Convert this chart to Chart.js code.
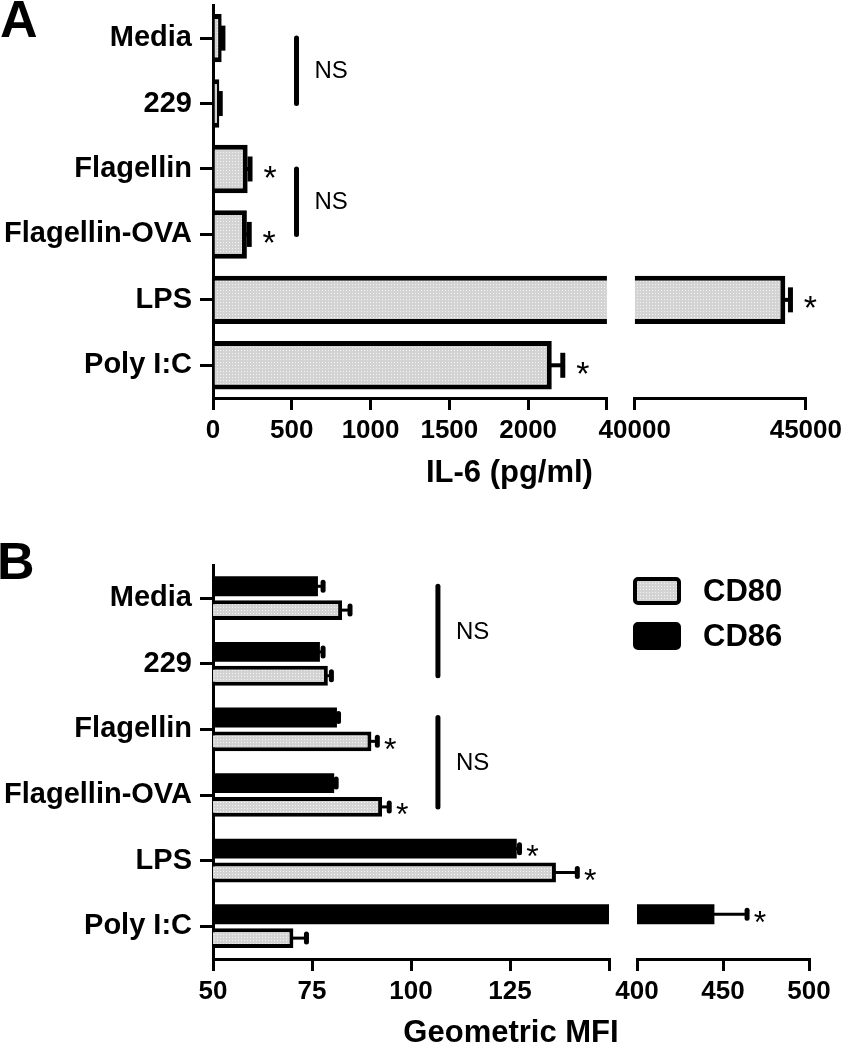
<!DOCTYPE html>
<html>
<head>
<meta charset="utf-8">
<script src="https://cdn.jsdelivr.net/npm/chart.js@4.4.1/dist/chart.umd.min.js"></script>
<style>
  html, body { margin: 0; padding: 0; background: #fff; }
  body { width: 847px; height: 1050px; position: relative; overflow: hidden;
         font-family: 'Liberation Sans', Arial, Helvetica, sans-serif; }
  canvas { position: absolute; left: 0; }
  #chartA { top: -20px; }
  #chartB { top: 540px; }
  .plabel { position: absolute; font-weight: bold; font-size: 52px; line-height: 1; color: #000; z-index: 5; }
</style>
</head>
<body>
<div class="plabel" style="left:0px; top:-7px;">A</div>
<div class="plabel" style="left:-3px; top:535px;">B</div>
<canvas id="chartA" width="847" height="520"></canvas>
<canvas id="chartB" width="847" height="510"></canvas>
<script>
// ---------------- DATA ----------------
const categories = ['Media', '229', 'Flagellin', 'Flagellin-OVA', 'LPS', 'Poly I:C'];

// Panel A: IL-6 (pg/ml)
const il6Mean = [55, 40, 220, 215, 44400, 2150];
const il6Err  = [8, 6, 15, 15, 150, 70];
const il6Sig  = [false, false, true, true, true, true];

// Panel B: Geometric MFI
const seriesNamesB = ['CD80', 'CD86'];
const cd80Mean = [82.6, 79.0, 90.0, 92.7, 136.6, 70.3];
const cd80Err  = [2.0, 0.9, 1.5, 1.8, 5.4, 3.3];
const cd80Sig  = [false, false, true, true, true, false];
const cd86Mean = [76.5, 77.0, 81.3, 80.6, 126.7, 445];
const cd86Err  = [1.3, 0.8, 0.4, 0.5, 0.7, 19];
const cd86Sig  = [false, false, false, false, true, true];

// NS brackets (pairs of category indices)
const nsGroups = [[0, 1], [2, 3]];

// Axis ticks (broken axes: left segment / right segment)
const ticksA1 = [0, 500, 1000, 1500, 2000, 2500];
const labelsA1 = [0, 500, 1000, 1500, 2000];
const ticksA2 = [40000, 45000];
const labelsA2 = [40000, 45000];
const ticksB1 = [50, 75, 100, 125, 150];
const labelsB1 = [50, 75, 100, 125];
const ticksB2 = [400, 450, 500];
const labelsB2 = [400, 450, 500];

// ---------------- STYLE HELPERS ----------------
const FAM = "'Liberation Sans', Arial, Helvetica, sans-serif";
function fontAvailable(name) {
  const c = document.createElement('canvas').getContext('2d');
  c.font = 'bold 30px monospace';
  const w1 = c.measureText('45000 1500 IL').width;
  c.font = "bold 30px '" + name + "', monospace";
  const w2 = c.measureText('45000 1500 IL').width;
  return Math.abs(w1 - w2) > 0.5;
}
const narrowOK = fontAvailable('Liberation Sans Narrow');
const tickFont = narrowOK
  ? { family: "'Liberation Sans Narrow', " + FAM, size: 30, weight: 'bold', lineHeight: 1.2 }
  : { family: FAM, size: 26, weight: 'bold', lineHeight: 1.2 };

function makePattern() {
  const c = document.createElement('canvas');
  c.width = 3; c.height = 3;
  const g = c.getContext('2d');
  g.fillStyle = '#d3d3d3'; g.fillRect(0, 0, 3, 3);
  g.fillStyle = '#f3f3f3'; g.fillRect(1, 1, 1, 1);
  return g.createPattern(c, 'repeat');
}
const grayPat = makePattern();

function xSeg(min, max, ticks, labels, weight, h) {
  return {
    type: 'linear', position: 'bottom', stack: 'xs', stackWeight: weight,
    min: min, max: max, stacked: false, beginAtZero: false, offset: false,
    afterBuildTicks: s => { s.ticks = ticks.map(v => ({ value: v })); },
    afterFit: s => { s.height = h; },
    grid: { display: true, drawOnChartArea: false, drawTicks: true, tickLength: 12,
            tickWidth: 3, tickColor: '#000', color: '#000', lineWidth: 3, offset: false },
    border: { display: true, color: '#000', width: 3 },
    ticks: { autoSkip: false, maxRotation: 0, minRotation: 0, padding: 5, color: '#000',
             font: tickFont, callback: v => labels.includes(v) ? String(v) : '' }
  };
}
function xGap(weight, h) {
  return {
    type: 'linear', position: 'bottom', stack: 'xs', stackWeight: weight, min: 0, max: 1,
    afterFit: s => { s.height = h; },
    grid: { display: false }, border: { display: false }, ticks: { display: false }
  };
}
function yCat() {
  return {
    type: 'category', labels: categories, position: 'left', offset: true, stacked: true,
    afterFit: s => { s.width = 213; },
    grid: { display: true, drawOnChartArea: false, drawTicks: true, tickLength: 13,
            tickWidth: 3, tickColor: '#000', color: '#000', lineWidth: 3, offset: false },
    border: { display: true, color: '#000', width: 3 },
    ticks: { autoSkip: false, padding: 8, color: '#000',
             font: { family: FAM, size: 29, weight: 'bold' } }
  };
}

// clip each dataset to its own x segment (broken axis)
const clipPlugin = {
  id: 'segClip',
  beforeDatasetDraw(chart, args) {
    const sc = args.meta.xScale;
    chart.ctx.save();
    chart.ctx.beginPath();
    chart.ctx.rect(sc.left, 0, sc.right - sc.left, chart.height);
    chart.ctx.clip();
  },
  afterDatasetDraw(chart) { chart.ctx.restore(); }
};

function annotPlugin(cfg) {
  return {
    id: 'annot',
    afterDatasetsDraw(chart) {
      const ctx = chart.ctx;
      ctx.save();
      ctx.strokeStyle = '#000'; ctx.fillStyle = '#000';
      cfg.series.forEach(s => {
        s.mean.forEach((v, i) => {
          const e = s.err[i];
          const m0 = chart.getDatasetMeta(s.ds[0]);
          const meta = v > m0.xScale.max ? chart.getDatasetMeta(s.ds[1]) : m0;
          const el = meta.data[i];
          const sc = meta.xScale;
          const x0 = sc.getPixelForValue(v);
          const x1 = sc.getPixelForValue(v + e);
          const cy = el.y;
          if (e > 0) {
            ctx.lineWidth = cfg.stemW; ctx.lineCap = 'butt';
            ctx.beginPath(); ctx.moveTo(x0 - 2, cy); ctx.lineTo(x1, cy); ctx.stroke();
            ctx.lineWidth = cfg.capW; ctx.lineCap = cfg.capRound ? 'round' : 'butt';
            ctx.beginPath(); ctx.moveTo(x1, cy - cfg.capH / 2); ctx.lineTo(x1, cy + cfg.capH / 2); ctx.stroke();
          }
          if (s.sig[i]) {
            ctx.font = cfg.starSize + 'px ' + FAM;
            ctx.textAlign = 'center'; ctx.textBaseline = 'alphabetic';
            ctx.fillText('*', x1 + cfg.starDx, cy + 0.575 * cfg.starSize + cfg.starDy);
          }
        });
      });
      // NS brackets
      const xs = chart.scales.x1;
      const nx = xs.getPixelForValue(cfg.nsAt);
      const first = cfg.series[0], last = cfg.series[cfg.series.length - 1];
      nsGroups.forEach(g => {
        const yt = chart.getDatasetMeta(first.ds[0]).data[g[0]].y;
        const yb = chart.getDatasetMeta(last.ds[0]).data[g[1]].y;
        ctx.lineWidth = cfg.nsW; ctx.lineCap = 'round';
        ctx.beginPath(); ctx.moveTo(nx, yt); ctx.lineTo(nx, yb); ctx.stroke();
        ctx.font = '24px ' + FAM;
        ctx.textAlign = 'left'; ctx.textBaseline = 'middle';
        ctx.fillText('NS', nx + 18, (yt + yb) / 2 + 1);
      });
      ctx.restore();
    }
  };
}

// ---------------- PANEL A ----------------
const barA = { backgroundColor: grayPat, borderColor: '#000', borderWidth: 5,
               categoryPercentage: 0.74, barPercentage: 1, stack: 'il6', yAxisID: 'y' };
new Chart(document.getElementById('chartA'), {
  type: 'bar',
  data: {
    labels: categories,
    datasets: [
      Object.assign({ label: 'IL-6', data: il6Mean, xAxisID: 'x1' }, barA),
      Object.assign({ label: 'IL-6', data: il6Mean, xAxisID: 'x2' }, barA)
    ]
  },
  options: {
    indexAxis: 'y', responsive: false, animation: false, devicePixelRatio: 1,
    layout: { padding: { left: 0, right: 38, top: 24, bottom: 11 } },
    scales: {
      x1: xSeg(0, 2500, ticksA1, labelsA1, 396, 60),
      xg: xGap(28, 60),
      x2: xSeg(40000, 45000, ticksA2, labelsA2, 172, 60),
      y: yCat()
    },
    plugins: {
      legend: { display: false }, tooltip: { enabled: false },
      title: { display: true, text: 'IL-6 (pg/ml)', position: 'bottom', fullSize: false,
               color: '#000', padding: { top: 0, bottom: 0 },
               font: { family: FAM, size: 31, weight: 'bold', lineHeight: 1 } }
    }
  },
  plugins: [clipPlugin, annotPlugin({
    series: [{ ds: [0, 1], mean: il6Mean, err: il6Err, sig: il6Sig }],
    stemW: 4, capW: 5, capH: 25, capRound: false,
    starSize: 34, starDx: 20, starDy: 0, nsAt: 530, nsW: 5
  })]
});

// ---------------- PANEL B ----------------
const barB = { borderColor: '#000', categoryPercentage: 0.727,
               barPercentage: 0.833, yAxisID: 'y' };
const legendB = {
  id: 'legendB',
  afterDraw(chart) {
    const ctx = chart.ctx;
    const items = [
      { name: seriesNamesB[0], fill: grayPat, y: 37 },
      { name: seriesNamesB[1], fill: '#000', y: 82 }
    ];
    ctx.save();
    items.forEach(it => {
      ctx.beginPath();
      if (ctx.roundRect) ctx.roundRect(635, it.y + 2, 44, 24, 3); else ctx.rect(635, it.y + 2, 44, 24);
      ctx.fillStyle = it.fill; ctx.fill();
      ctx.lineWidth = 4; ctx.strokeStyle = '#000'; ctx.stroke();
      ctx.fillStyle = '#000';
      ctx.font = 'bold 31px ' + FAM;
      ctx.textAlign = 'left'; ctx.textBaseline = 'middle';
      ctx.fillText(it.name, 703, it.y + 15);
    });
    ctx.restore();
  }
};
new Chart(document.getElementById('chartB'), {
  type: 'bar',
  data: {
    labels: categories,
    datasets: [
      Object.assign({ label: seriesNamesB[1], data: cd86Mean, xAxisID: 'x1', stack: 'cd86', backgroundColor: '#000', borderWidth: 0 }, barB),
      Object.assign({ label: seriesNamesB[1], data: cd86Mean, xAxisID: 'x2', stack: 'cd86', backgroundColor: '#000', borderWidth: 0 }, barB),
      Object.assign({ label: seriesNamesB[0], data: cd80Mean, xAxisID: 'x1', stack: 'cd80', backgroundColor: grayPat, borderWidth: 4 }, barB),
      Object.assign({ label: seriesNamesB[0], data: cd80Mean, xAxisID: 'x2', stack: 'cd80', backgroundColor: grayPat, borderWidth: 4 }, barB)
    ]
  },
  options: {
    indexAxis: 'y', responsive: false, animation: false, devicePixelRatio: 1,
    layout: { padding: { left: 0, right: 38, top: 24, bottom: 1 } },
    scales: {
      x1: xSeg(50, 150, ticksB1, labelsB1, 396, 59),
      xg: xGap(28, 59),
      x2: xSeg(400, 500, ticksB2, labelsB2, 172, 59),
      y: yCat()
    },
    plugins: {
      legend: { display: false }, tooltip: { enabled: false },
      title: { display: true, text: 'Geometric MFI', position: 'bottom', fullSize: false,
               color: '#000', padding: { top: 0, bottom: 0 },
               font: { family: FAM, size: 31, weight: 'bold', lineHeight: 1 } }
    }
  },
  plugins: [clipPlugin, legendB, annotPlugin({
    series: [
      { ds: [0, 1], mean: cd86Mean, err: cd86Err, sig: cd86Sig },
      { ds: [2, 3], mean: cd80Mean, err: cd80Err, sig: cd80Sig }
    ],
    stemW: 3, capW: 5, capH: 8, capRound: true,
    starSize: 32, starDx: 13, starDy: 0, nsAt: 106.8, nsW: 5
  })]
});
</script>
</body>
</html>
